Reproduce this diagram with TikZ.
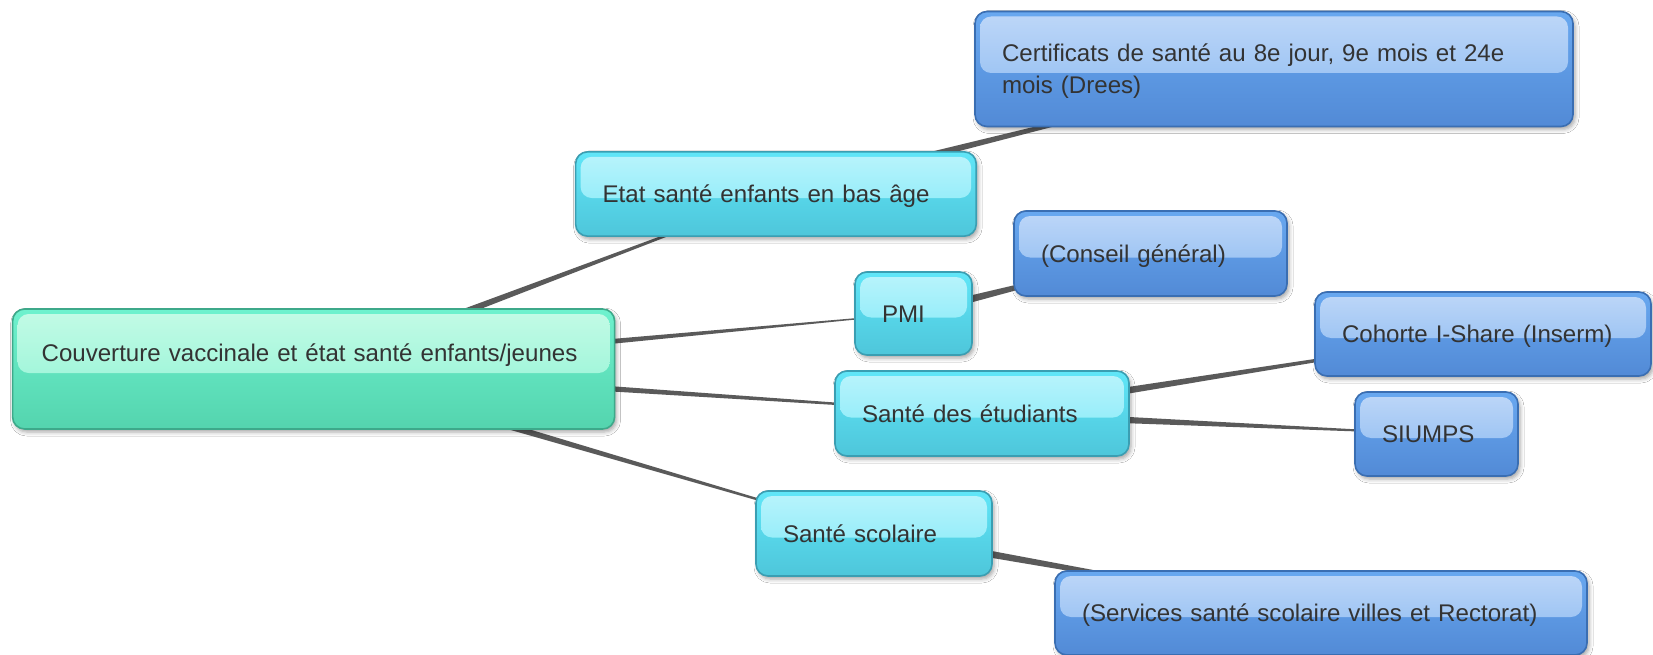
\documentclass[tikz,border=0pt]{standalone}
\usepackage{fontspec}
\setmainfont{Liberation Sans}
\usetikzlibrary{calc,shadows.blur,backgrounds}
\definecolor{txt}{HTML}{333333}
\definecolor{linkc}{HTML}{5A5A5A}
\definecolor{rootB}{HTML}{3DA98A}
\definecolor{rootT}{HTML}{6EF2CE}
\definecolor{rootD}{HTML}{54D4AE}
\definecolor{rootH1}{HTML}{C4FBE6}
\definecolor{rootH2}{HTML}{88F2D2}
\definecolor{cyB}{HTML}{3A9EB2}
\definecolor{cyT}{HTML}{60E6F8}
\definecolor{cyD}{HTML}{4EC6DA}
\definecolor{cyH1}{HTML}{BAF4FC}
\definecolor{cyH2}{HTML}{7CE8F7}
\definecolor{blB}{HTML}{3A6EB2}
\definecolor{blT}{HTML}{68A8F0}
\definecolor{blD}{HTML}{528AD6}
\definecolor{blH1}{HTML}{BED7F8}
\definecolor{blH2}{HTML}{86B7F0}
\newcommand\mmfont{\fontsize{24.1pt}{31.6pt}\selectfont}
\newcommand\mmlink[2]{\fill[linkc] ($(#1)!4.5pt!90:(#2)$) -- ($(#2)!0.3pt!-90:(#1)$) -- ($(#2)!0.3pt!90:(#1)$) -- ($(#1)!4.5pt!-90:(#2)$) -- cycle;}
\tikzset{
  hl/.style 2 args={path picture={\shade[top color=#1,bottom color=#2,rounded corners=11pt]
     ($(path picture bounding box.north west)+(5pt,-5pt)$) rectangle
     ($(path picture bounding box.east)+(-5pt,-4pt)$);}},
  mmbox/.style={rounded corners=12pt, line width=1.6pt, inner xsep=27pt, inner ysep=0pt,
     text height=17pt, text depth=0pt, align=left, font=\mmfont, text=txt, anchor=center,
     blur shadow={shadow xshift=2pt, shadow yshift=-3pt, shadow blur radius=4pt, shadow opacity=35}},
  rootbox/.style={mmbox, draw=rootB, top color=rootT, bottom color=rootD, hl={rootH1}{rootH2}},
  cybox/.style={mmbox, draw=cyB, top color=cyT, bottom color=cyD, hl={cyH1}{cyH2}},
  blbox/.style={mmbox, draw=blB, top color=blT, bottom color=blD, hl={blH1}{blH2}},
}
\begin{document}
\begin{tikzpicture}[x=1pt,y=-1pt]
\useasboundingbox (0,0) rectangle (1653,655);
\node[rootbox, minimum height=120pt, text width=544pt, inner xsep=29pt, text depth=32pt] (root) at (313.6,369)
  {\mbox{Couverture vaccinale et état santé enfants/jeunes}};
\node[cybox, minimum height=84.3pt, text width=346.6pt] (etat) at (775.9,194) {\mbox{Etat santé enfants en bas âge}};
\node[blbox, minimum height=115pt, text width=544pt, text depth=31.6pt] (cert) at (1274,69)
  {\mbox{Certificats de santé au 8e jour, 9e mois et 24e}\\\mbox{mois (Drees)}};
\node[cybox, minimum height=83pt, text width=63pt] (pmi) at (913.5,313.5) {\mbox{PMI}};
\node[blbox, minimum height=85pt, text width=219pt] (conseil) at (1150.5,253.5) {\mbox{(Conseil général)}};
\node[cybox, minimum height=85pt, text width=240pt] (etud) at (982,413.5) {\mbox{Santé des étudiants}};
\node[blbox, minimum height=84pt, text width=282pt] (cohorte) at (1483,334) {\mbox{Cohorte I-Share (Inserm)}};
\node[blbox, minimum height=84pt, text width=109pt] (siumps) at (1436.5,434) {\mbox{SIUMPS}};
\node[cybox, minimum height=85pt, text width=182pt] (scol) at (874,533.5) {\mbox{Santé scolaire}};
\node[blbox, minimum height=84pt, text width=478pt] (serv) at (1321,613) {\mbox{(Services santé scolaire villes et Rectorat)}};
\begin{scope}[on background layer]
\fill[white] (0,0) rectangle (1653,655);
\mmlink{root}{etat}
\mmlink{root}{pmi}
\mmlink{root}{etud}
\mmlink{root}{scol}
\mmlink{etat}{cert}
\mmlink{pmi}{conseil}
\mmlink{etud}{cohorte}
\mmlink{etud}{siumps}
\mmlink{scol}{serv}
\end{scope}
\end{tikzpicture}
\end{document}
